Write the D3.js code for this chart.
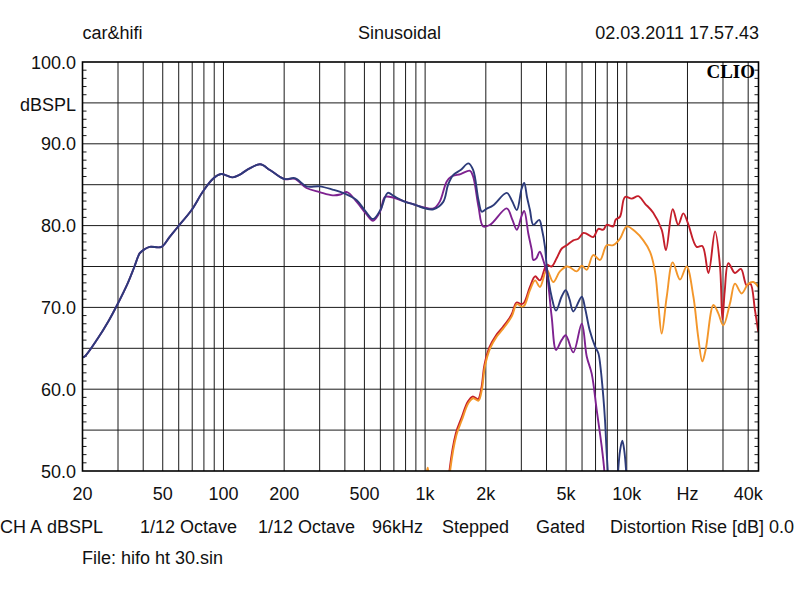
<!DOCTYPE html>
<html><head><meta charset="utf-8">
<script src="https://cdn.jsdelivr.net/npm/d3@7/dist/d3.min.js"></script>
<style>html,body{margin:0;padding:0;background:#fff}svg{display:block}</style>
</head><body><svg id="c" width="800" height="597"></svg>
<script>
// ---- data ----
const headerTexts = ["car&hifi", "Sinusoidal", "02.03.2011 17.57.43"];
const footerTexts = ["CH A", "dBSPL", "1/12 Octave", "1/12 Octave", "96kHz", "Stepped", "Gated", "Distortion Rise [dB] 0.0"];
const fileText = "File: hifo ht 30.sin";
const xTickFreqs = [20, 50, 100, 200, 500, 1000, 2000, 5000, 10000, 20000, 40000];
const xTickLabels = ["20", "50", "100", "200", "500", "1k", "2k", "5k", "10k", "Hz", "40k"];
const yTickValues = [100, 95, 90, 80, 70, 60, 50];
const yTickLabels = ["100.0", "dBSPL", "90.0", "80.0", "70.0", "60.0", "50.0"];
const xDomain = [20, 45000];
const yDomain = [50, 100];

const blueSeries = [[20,63.9],[20.5,64.0],[23.8,66.2],[26.8,68.25],[29.7,70.3],[33.5,72.95],[36.2,75.0],[38.4,76.6],[40,77.0],[43,77.4],[49.2,77.4],[54,78.6],[59.2,79.8],[69.5,81.9],[78.8,84.1],[88.5,85.7],[97.4,86.3],[104,86.1],[111,85.9],[120,86.2],[132.7,86.9],[152,87.5],[170,86.8],[200,85.7],[226,85.8],[258,84.8],[300,84.8],[348,84.4],[400,83.9],[458,83.1],[508,81.7],[552,80.8],[600,81.9],[653,84.0],[700,83.6],[780,83.0],[900,82.5],[1000,82.1],[1100,82.0],[1230,82.9],[1300,85.0],[1380,86.2],[1500,86.8],[1640,87.6],[1730,86.8],[1840,83.1],[1910,81.7],[2000,82.0],[2180,82.5],[2540,84.0],[2700,83.0],[2850,81.9],[3010,84.5],[3100,85.2],[3200,83.5],[3310,81.9],[3440,80.1],[3680,80.7],[3800,79.5],[3930,77.4],[4010,75.0],[4240,71.3],[4460,69.6],[4750,71.3],[4980,72.1],[5200,71.0],[5430,69.5],[5980,71.3],[6200,70.0],[6550,67.2],[6970,65.2],[7230,64.4],[7400,62.8],[7650,59.1],[7800,56.2],[7950,52.2],[8050,50.0],[8200,46],[8800,44],[9050,49.8],[9260,52.5],[9500,53.7],[9720,52.5],[9960,49.5],[10200,45]];
const purpleSeries = [[20,63.9],[20.5,64.0],[23.8,66.2],[26.8,68.25],[29.7,70.3],[33.5,72.95],[36.2,75.0],[38.4,76.6],[40,77.0],[43,77.4],[49.2,77.4],[54,78.6],[59.2,79.8],[69.5,81.9],[78.8,84.1],[88.5,85.7],[97.4,86.3],[104,86.1],[111,85.9],[120,86.2],[132.7,86.9],[152,87.5],[170,86.8],[200,85.7],[226,85.7],[258,84.6],[300,84.1],[348,83.7],[380,83.8],[410,84.1],[458,82.9],[508,81.5],[552,80.6],[600,81.8],[632,83.5],[700,83.4],[780,83.0],[900,82.5],[1000,82.2],[1100,82.1],[1180,82.9],[1280,85.4],[1350,86.0],[1500,86.3],[1670,86.7],[1730,86.0],[1840,82.3],[1940,79.9],[2100,80.1],[2540,82.1],[2700,80.8],[2850,79.5],[3010,81.2],[3100,81.8],[3250,79.0],[3380,77.0],[3440,75.8],[3560,76.0],[3700,76.8],[3850,75.8],[4010,74.2],[4240,68.9],[4460,64.8],[4750,66.0],[4980,66.6],[5430,64.5],[5980,68.0],[6330,64.0],[6700,61.9],[7090,57.5],[7510,53.0],[7740,50.0],[7900,46]];
const orangeSeries = [[980,47],[1030,50.4],[1080,47],[1290,46],[1330,50.0],[1430,54.4],[1520,56.2],[1640,58.3],[1730,58.9],[1840,58.6],[1910,59.9],[1980,62.8],[2100,65.0],[2260,66.4],[2440,67.4],[2690,68.9],[2850,70.4],[3010,70.1],[3100,70.2],[3310,72.1],[3510,73.3],[3710,72.5],[4010,74.6],[4320,73.1],[4660,74.4],[5040,75.0],[5230,74.9],[5650,74.4],[5980,75.1],[6330,74.6],[6820,76.4],[7370,75.8],[7950,77.6],[8570,77.6],[9260,78.4],[10000,79.9],[10980,79.3],[12080,78.2],[13040,76.8],[13800,74.4],[14330,70.5],[14900,66.8],[15780,71.3],[16900,75.5],[18360,73.4],[19800,75.0],[21400,71.3],[22600,66.4],[23700,63.4],[24600,64.8],[26900,70.3],[28400,69.3],[30100,67.8],[32500,70.5],[34400,72.9],[37100,71.7],[40050,72.9],[42400,73.1],[44900,72.5]];
const redSeries = [[1290,46.5],[1320,50.0],[1420,54.6],[1510,56.4],[1630,58.5],[1720,59.1],[1830,58.8],[1900,60.1],[1970,63.0],[2090,65.2],[2250,66.6],[2430,67.6],[2680,69.1],[2840,70.6],[3000,70.4],[3100,70.6],[3310,72.5],[3510,73.8],[3710,73.3],[4010,75.2],[4240,75.0],[4490,76.0],[4760,77.2],[5040,77.6],[5430,78.2],[5750,78.4],[6090,79.1],[6330,79.0],[6820,78.6],[7230,79.6],[7650,79.5],[7950,80.1],[8570,79.9],[8800,80.7],[9260,81.1],[9800,83.5],[10580,83.3],[11400,83.6],[12300,82.7],[13500,81.6],[14900,79.5],[15640,77.0],[16900,82.0],[18000,80.1],[19070,81.5],[20100,80.3],[22200,77.4],[23700,77.5],[25400,74.2],[27400,79.3],[29000,75.0],[29800,68.5],[30600,72.0],[31900,75.4],[34400,74.2],[36800,74.7],[39300,72.7],[41000,72.9],[43200,69.7],[44900,67.0]];

// ---- layout ----
const L = 82.5, R = 758.5, T = 62, B = 471;
const svg = d3.select("#c");
svg.append("rect").attr("width", 800).attr("height", 597).attr("fill", "#fff");
const x = d3.scaleLog().domain(xDomain).range([L, R]);
const y = d3.scaleLinear().domain(yDomain).range([B, T]);
const font = "'Liberation Sans', Arial, sans-serif";

// grid frequencies (decade subdivisions)
const gridFreqs = [];
[10, 100, 1000].forEach(d => { for (let m = 1; m <= 9; m++) { const f = m * d; if (f > 20 && f < 10000) gridFreqs.push(f); } });
gridFreqs.push(10000, 20000, 30000, 40000);
const gridDb = d3.range(55, 100, 5);

const g = svg.append("g");
g.selectAll(".vg").data(gridFreqs).enter().append("line")
  .attr("x1", d => x(d)).attr("x2", d => x(d)).attr("y1", T).attr("y2", B)
  .attr("stroke", "#1a1a1a").attr("stroke-width", 1);
g.selectAll(".hg").data(gridDb).enter().append("line")
  .attr("x1", L).attr("x2", R).attr("y1", d => y(d)).attr("y2", d => y(d))
  .attr("stroke", "#1a1a1a").attr("stroke-width", 1);

// minor ticks
const minor = d3.range(51, 100, 1).filter(v => v % 5 !== 0);
g.selectAll(".tl").data(minor).enter().append("line")
  .attr("x1", L).attr("x2", L + 4).attr("y1", d => y(d)).attr("y2", d => y(d))
  .attr("stroke", "#1a1a1a").attr("stroke-width", 1);
g.selectAll(".tr").data(minor).enter().append("line")
  .attr("x1", R - 4).attr("x2", R).attr("y1", d => y(d)).attr("y2", d => y(d))
  .attr("stroke", "#1a1a1a").attr("stroke-width", 1);

// curves
svg.append("clipPath").attr("id", "clip").append("rect")
  .attr("x", L).attr("y", T).attr("width", R - L).attr("height", B - T);
const line = d3.line().x(d => x(d[0])).y(d => y(d[1])).curve(d3.curveCatmullRom.alpha(0.5));
const cg = svg.append("g").attr("clip-path", "url(#clip)");
const series = [
  {data: redSeries, color: "#c41e2a"},
  {data: orangeSeries, color: "#f3962a"},
  {data: purpleSeries, color: "#7e2290"},
  {data: blueSeries, color: "#2d3b7a"}
];
cg.selectAll("path").data(series).enter().append("path")
  .attr("d", d => line(d.data)).attr("fill", "none")
  .attr("stroke", d => d.color).attr("stroke-width", 1.9).attr("stroke-linejoin", "round");

// frame
svg.append("rect").attr("x", L).attr("y", T).attr("width", R - L).attr("height", B - T)
  .attr("fill", "none").attr("stroke", "#000").attr("stroke-width", 1.6);

// CLIO logo
svg.append("text").attr("x", 755).attr("y", 78).attr("text-anchor", "end")
  .attr("font-family", "'Liberation Serif', 'Times New Roman', serif").attr("font-weight", "bold")
  .attr("font-size", 19).attr("fill", "#000").text("CLIO");

// y labels
svg.selectAll(".yl").data(yTickValues).enter().append("text")
  .attr("x", 76).attr("y", (d, i) => y(d) + (i === 1 ? 8.5 : 6.5)).attr("text-anchor", "end")
  .attr("font-family", font).attr("font-size", 18).attr("fill", "#111")
  .text((d, i) => yTickLabels[i]);

// x labels
svg.selectAll(".xl").data(xTickFreqs).enter().append("text")
  .attr("x", d => x(d)).attr("y", 500).attr("text-anchor", "middle")
  .attr("font-family", font).attr("font-size", 18).attr("fill", "#111")
  .text((d, i) => xTickLabels[i]);

// header
const hx = [82.5, 399.5, 759], ha = ["start", "middle", "end"];
svg.selectAll(".hd").data(headerTexts).enter().append("text")
  .attr("x", (d, i) => hx[i]).attr("y", 39).attr("text-anchor", (d, i) => ha[i])
  .attr("font-family", font).attr("font-size", 18).attr("fill", "#111").text(d => d);

// footer
const fx = [0, 47, 140, 258, 372, 442, 536, 610];
svg.selectAll(".ft").data(footerTexts).enter().append("text")
  .attr("x", (d, i) => fx[i]).attr("y", 533)
  .attr("font-family", font).attr("font-size", 18).attr("fill", "#111").text(d => d);
svg.append("text").attr("x", 82).attr("y", 564)
  .attr("font-family", font).attr("font-size", 18).attr("fill", "#111").text(fileText);
</script></body></html>
